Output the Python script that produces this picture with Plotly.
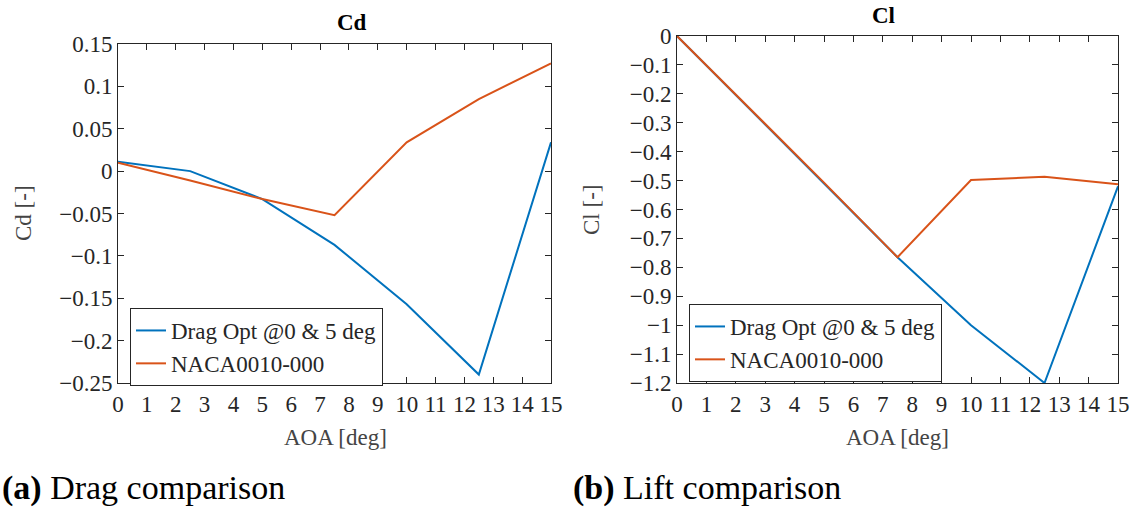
import plotly.graph_objects as go

aoa = [0, 2.5, 5, 7.5, 10, 12.5, 15]
cd_opt = [0.011, 0.0, -0.033, -0.087, -0.157, -0.240, 0.034]
cd_naca = [0.010, -0.011, -0.033, -0.052, 0.034, 0.085, 0.127]
cl_opt = [0.0, -0.255, -0.51, -0.765, -1.0, -1.2, -0.52]
cl_naca = [0.0, -0.253, -0.507, -0.765, -0.498, -0.487, -0.513]

series_names = ["Drag Opt @0 & 5 deg", "NACA0010-000"]
colors = ["#0072BD", "#D95319"]

x_ticks = list(range(0, 16))
cd_ticks = [0.15, 0.1, 0.05, 0, -0.05, -0.1, -0.15, -0.2, -0.25]
cd_ticktext = ["0.15", "0.1", "0.05", "0", "\u22120.05", "\u22120.1", "\u22120.15", "\u22120.2", "\u22120.25"]
cl_ticks = [0, -0.1, -0.2, -0.3, -0.4, -0.5, -0.6, -0.7, -0.8, -0.9, -1.0, -1.1, -1.2]
cl_ticktext = ["0", "\u22120.1", "\u22120.2", "\u22120.3", "\u22120.4", "\u22120.5", "\u22120.6",
               "\u22120.7", "\u22120.8", "\u22120.9", "\u22121", "\u22121.1", "\u22121.2"]

FONT = "Liberation Serif, serif"
TXT = "#262626"
W, H = 1137, 507


def px(x):
    return x / W


def py(y):
    return 1 - y / H


fig = go.Figure()
fig.add_trace(go.Scatter(x=aoa, y=cd_opt, mode="lines", name=series_names[0],
                         line=dict(color=colors[0], width=2), xaxis="x", yaxis="y", legend="legend"))
fig.add_trace(go.Scatter(x=aoa, y=cd_naca, mode="lines", name=series_names[1],
                         line=dict(color=colors[1], width=2), xaxis="x", yaxis="y", legend="legend"))
fig.add_trace(go.Scatter(x=aoa, y=cl_opt, mode="lines", name=series_names[0],
                         line=dict(color=colors[0], width=2), xaxis="x2", yaxis="y2", legend="legend2"))
fig.add_trace(go.Scatter(x=aoa, y=cl_naca, mode="lines", name=series_names[1],
                         line=dict(color=colors[1], width=2), xaxis="x2", yaxis="y2", legend="legend2"))

axis_common = dict(showgrid=False, zeroline=False, showline=True, linecolor=TXT, linewidth=1,
                   mirror="ticks", ticks="inside", ticklen=6, tickcolor=TXT, automargin=False,
                   tickfont=dict(family=FONT, size=23, color=TXT))

legend_common = dict(xanchor="left", yanchor="top", bgcolor="white",
                     bordercolor=TXT, borderwidth=1, font=dict(family=FONT, size=23, color=TXT),
                     itemwidth=30, tracegroupgap=0, traceorder="normal")

title_font = dict(family=FONT, size=23, color="#444")

fig.update_layout(
    width=W, height=H, margin=dict(l=0, r=0, t=0, b=0, autoexpand=False),
    template="none",
    paper_bgcolor="white", plot_bgcolor="white",
    font=dict(family=FONT, color=TXT),
    showlegend=True,
    xaxis=dict(domain=[px(118), px(551)], range=[0, 15], tickvals=x_ticks, anchor="y", **axis_common),
    yaxis=dict(domain=[py(383), py(44)], range=[-0.25, 0.15], tickvals=cd_ticks, ticktext=cd_ticktext,
               anchor="x", **axis_common),
    xaxis2=dict(domain=[px(677), px(1118)], range=[0, 15], tickvals=x_ticks, anchor="y2", **axis_common),
    yaxis2=dict(domain=[py(383), py(36)], range=[-1.2, 0], tickvals=cl_ticks, ticktext=cl_ticktext,
                anchor="x2", **axis_common),
    legend=dict(x=px(130), y=py(308), **legend_common),
    legend2=dict(x=px(689), y=py(304), **legend_common),
    annotations=[
        dict(text="<b>Cd</b>", x=px(335), y=py(22), xref="paper", yref="paper",
             showarrow=False, font=dict(family=FONT, size=23, color="#000"), yanchor="middle"),
        dict(text="<b>Cl</b>", x=px(897), y=py(15), xref="paper", yref="paper",
             showarrow=False, font=dict(family=FONT, size=23, color="#000"), yanchor="middle"),
        dict(text="Cd [-]", x=px(24), y=py(213), xref="paper", yref="paper", textangle=-90,
             showarrow=False, font=title_font, xanchor="center", yanchor="middle"),
        dict(text="Cl [-]", x=px(591), y=py(210), xref="paper", yref="paper", textangle=-90,
             showarrow=False, font=title_font, xanchor="center", yanchor="middle"),
        dict(text="AOA [deg]", x=px(335), y=py(437), xref="paper", yref="paper",
             showarrow=False, font=title_font, xanchor="center", yanchor="middle"),
        dict(text="AOA [deg]", x=px(897), y=py(437), xref="paper", yref="paper",
             showarrow=False, font=title_font, xanchor="center", yanchor="middle"),
        dict(text="<b>(a)</b> Drag comparison", x=0.0, y=py(488), xref="paper", yref="paper",
             showarrow=False, xanchor="left", yanchor="middle",
             font=dict(family=FONT, size=34, color="#000")),
        dict(text="<b>(b)</b> Lift comparison", x=px(571), y=py(488), xref="paper", yref="paper",
             showarrow=False, xanchor="left", yanchor="middle",
             font=dict(family=FONT, size=34, color="#000")),
    ],
)

fig.write_html("out.html")
